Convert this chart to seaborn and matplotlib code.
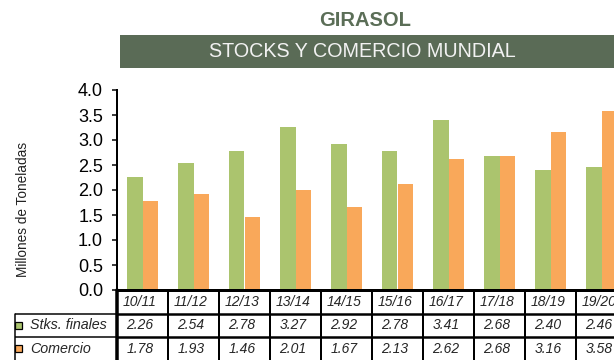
import numpy as np
import pandas as pd
import matplotlib
matplotlib.use("Agg")
import matplotlib.pyplot as plt
from matplotlib.patches import Rectangle
import seaborn as sns

# Campaigns and series values (millones de toneladas)
campanias = ["10/11", "11/12", "12/13", "13/14", "14/15", "15/16", "16/17", "17/18", "18/19", "19/20"]
stocks_finales = [2.26, 2.54, 2.78, 3.27, 2.92, 2.78, 3.41, 2.68, 2.40, 2.46]
comercio = [1.78, 1.93, 1.46, 2.01, 1.67, 2.13, 2.62, 2.68, 3.16, 3.58]
series = ["Stks. finales", "Comercio"]
y_ticks = [0.0, 0.5, 1.0, 1.5, 2.0, 2.5, 3.0, 3.5, 4.0]

VERDE = "#abc46e"
NARANJA = "#f9a85a"
BANDA = "#5a6b56"
TITULO = "#5b6e57"

sns.set_style("white")
plt.rcParams["font.family"] = ["Liberation Sans", "DejaVu Sans"]

df = pd.DataFrame({
    "Campaña": campanias * 2,
    "Serie": [series[0]] * len(campanias) + [series[1]] * len(campanias),
    "Valor": stocks_finales + comercio,
})

W, H = 614, 360
fig = plt.figure(figsize=(W / 100, H / 100), dpi=100)
fig.patch.set_facecolor("white")


def px(v):
    """pixels -> points"""
    return v * 72 / 100


# plot area: 51 px per campaign, 50 px per unit on y
left, top, bottom = 117, 90, 290
step = 51
ax = fig.add_axes([left / W, (H - bottom) / H, step * len(campanias) / W, (bottom - top) / H])
sns.barplot(data=df, x="Campaña", y="Valor", hue="Serie", order=campanias, hue_order=series,
            palette=[VERDE, NARANJA], width=0.6, saturation=1, errorbar=None,
            legend=False, ax=ax)
for p in ax.patches:
    p.set_edgecolor("none")
ax.set_xlim(-0.5, len(campanias) - 0.5)
ax.set_ylim(0, 4)
ax.set_yticks(y_ticks)
ax.set_yticklabels([f"{t:.1f}" for t in y_ticks], fontsize=13)
ax.set_xticks([])
ax.set_xlabel("")
ax.set_ylabel("Millones de Toneladas", fontsize=9.8, color="#222222")
ax.yaxis.set_label_coords(-(left - 30) / (step * len(campanias)), (bottom - 209) / (bottom - top))
for s in ["top", "right", "bottom"]:
    ax.spines[s].set_visible(False)
ax.spines["left"].set_color("black")
ax.spines["left"].set_linewidth(px(2))
ax.tick_params(axis="y", direction="out", length=px(5), width=px(1.5), pad=px(9),
               colors="black", left=True)

# data table under the plot
row_h = 23.5
tab_left = 14
tax = fig.add_axes([tab_left / W, (H - bottom - 3 * row_h) / H,
                    (left + step * len(campanias) - tab_left) / W, 3 * row_h / H])
x0 = -0.5 - (left - tab_left) / step
tax.set_xlim(x0, len(campanias) - 0.5)
tax.set_ylim(3, 0)
tax.axis("off")

xe = len(campanias) - 0.5
tax.plot([-0.5, xe], [0, 0], color="black", lw=px(3), solid_capstyle="butt", clip_on=False)
tax.plot([-0.5, xe], [1, 1], color="black", lw=px(2.5), solid_capstyle="butt", clip_on=False)
tax.plot([-0.5, xe], [2, 2], color="black", lw=px(2.5), solid_capstyle="butt", clip_on=False)
tax.plot([x0 + 0.01, -0.5], [1, 1], color="black", lw=px(1.5), solid_capstyle="butt", clip_on=False)
tax.plot([x0 + 0.01, -0.5], [2, 2], color="black", lw=px(1.5), solid_capstyle="butt", clip_on=False)
tax.plot([x0 + 0.01, x0 + 0.01], [1, 3], color="black", lw=px(1.5), clip_on=False)
tax.plot([-0.5, -0.5], [0, 3], color="black", lw=px(3.5), clip_on=False)
for k in range(len(campanias) - 1):
    tax.plot([k + 0.5, k + 0.5], [0, 3], color="black", lw=px(2), clip_on=False)

# cell texts sit a little left of the cell centre
dx = 2.5 / step
for i, c in enumerate(campanias):
    tax.text(i - dx, 0.5, c, ha="center", va="center", fontsize=10, style="italic")
    tax.text(i - dx, 1.5, f"{stocks_finales[i]:.2f}", ha="center", va="center", fontsize=10, style="italic")
    tax.text(i - dx, 2.5, f"{comercio[i]:.2f}", ha="center", va="center", fontsize=10, style="italic")

# legend keys in the table's first column
for r, (nombre, col) in enumerate(zip(series, [VERDE, NARANJA])):
    yc = bottom + (r + 1.5) * row_h
    fig.patches.append(Rectangle((15 / W, (H - yc - 3.5) / H), 7 / W, 7 / H, facecolor=col,
                                 edgecolor="black", lw=0.9, transform=fig.transFigure))
    fig.text(30 / W, (H - yc) / H, nombre, ha="left", va="center", fontsize=10.3, style="italic")

# title and banner
fig.text(365 / W, (H - 20) / H, "GIRASOL", ha="center", va="center", fontsize=14.5,
         fontweight="bold", color=TITULO)
fig.patches.append(Rectangle((120 / W, (H - 68) / H), (W - 120) / W, 33 / H, facecolor=BANDA,
                             edgecolor="none", transform=fig.transFigure))
fig.text(362 / W, (H - 51.5) / H, "STOCKS Y COMERCIO MUNDIAL", ha="center", va="center",
         fontsize=14.2, color="#f2f2f2")

fig.savefig("out.png", dpi=100)
